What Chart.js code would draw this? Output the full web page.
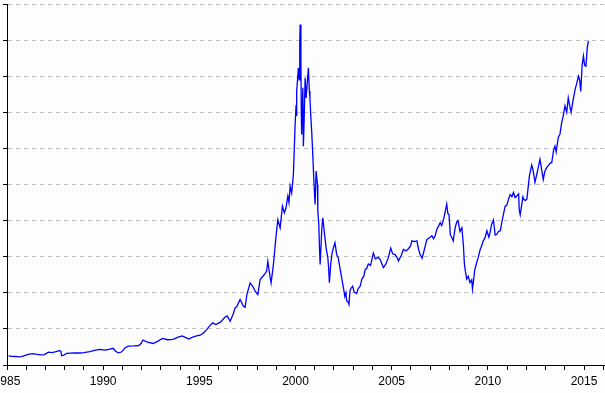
<!DOCTYPE html>
<html>
<head>
  <meta charset="utf-8">
  <title>Index 1985-2015</title>
  <script src="https://cdn.jsdelivr.net/npm/chart.js"></script>
  <style>
    html, body { margin: 0; padding: 0; background: #fdfdfd; overflow: hidden; }
    canvas { display: block; }
  </style>
</head>
<body>
  <canvas id="chart" width="605" height="393"></canvas>

  <script>
    // time as decimal years
    const years = [
      1985.08, 1985.25, 1985.45, 1985.6, 1985.75, 1985.95, 1986.15, 1986.35, 1986.55, 1986.75, 1986.95,
      1987.15, 1987.35, 1987.55, 1987.72, 1987.8, 1987.84, 1987.95, 1988.1, 1988.3, 1988.5, 1988.8,
      1989.0, 1989.3, 1989.6, 1989.84, 1990.1, 1990.35, 1990.52, 1990.65, 1990.78, 1990.95,
      1991.15, 1991.3, 1991.6, 1991.85, 1991.98, 1992.06, 1992.3, 1992.6, 1992.85,
      1993.08, 1993.35, 1993.63, 1993.9, 1994.1, 1994.3, 1994.45, 1994.65, 1994.86,
      1995.04, 1995.2, 1995.38, 1995.55, 1995.7, 1995.85, 1996.08, 1996.34, 1996.45, 1996.6, 1996.75, 1996.86,
      1996.94, 1997.12, 1997.29, 1997.38, 1997.47, 1997.64, 1997.8, 1997.9, 1998.04, 1998.16, 1998.38, 1998.5,
      1998.56, 1998.66, 1998.73, 1998.85, 1998.97, 1999.08, 1999.2, 1999.32, 1999.42, 1999.5,
      1999.6, 1999.66, 1999.72, 1999.8, 1999.89, 1999.98, 2000.03, 2000.05, 2000.07, 2000.15, 2000.19,
      2000.22, 2000.24, 2000.28, 2000.3, 2000.32, 2000.38, 2000.41, 2000.45, 2000.5, 2000.55, 2000.58,
      2000.67, 2000.72, 2000.75, 2000.79, 2000.84, 2000.89, 2000.93, 2000.97, 2001.02, 2001.07, 2001.14,
      2001.16, 2001.21, 2001.25, 2001.28, 2001.37, 2001.42, 2001.51, 2001.59, 2001.68, 2001.72, 2001.76,
      2001.83, 2001.9, 2001.97, 2002.05, 2002.14, 2002.22, 2002.31, 2002.4, 2002.52, 2002.56, 2002.62,
      2002.66, 2002.72, 2002.78, 2002.83, 2002.88, 2002.97, 2003.05, 2003.18, 2003.26, 2003.36, 2003.45,
      2003.55, 2003.62, 2003.7, 2003.79, 2003.9, 2004.05, 2004.15, 2004.31, 2004.4, 2004.57, 2004.7,
      2004.83, 2004.95, 2005.05, 2005.18, 2005.3, 2005.35, 2005.5, 2005.61, 2005.75, 2005.87, 2005.98,
      2006.05, 2006.2, 2006.31, 2006.4, 2006.48, 2006.58, 2006.7, 2006.83, 2006.95, 2007.09, 2007.17,
      2007.25, 2007.35, 2007.45, 2007.52, 2007.6, 2007.7, 2007.8, 2007.86, 2007.92, 2007.98, 2008.05,
      2008.12, 2008.2, 2008.3, 2008.38, 2008.45, 2008.55, 2008.65, 2008.73, 2008.78, 2008.83, 2008.9,
      2008.98, 2009.07, 2009.16, 2009.2, 2009.27, 2009.32, 2009.42, 2009.5, 2009.6, 2009.68, 2009.76,
      2009.85, 2009.95, 2010.05, 2010.11, 2010.2, 2010.29, 2010.38, 2010.46, 2010.55, 2010.65, 2010.72,
      2010.82, 2010.9, 2010.98, 2011.08, 2011.16, 2011.25, 2011.33, 2011.42, 2011.5, 2011.6, 2011.63,
      2011.68, 2011.75, 2011.82, 2011.88, 2011.96, 2012.03, 2012.16, 2012.28, 2012.35, 2012.45, 2012.55,
      2012.63, 2012.71, 2012.8, 2012.88, 2012.96, 2013.05, 2013.14, 2013.25, 2013.32, 2013.42, 2013.49,
      2013.55, 2013.66, 2013.75, 2013.84, 2013.92, 2014.01, 2014.1, 2014.18, 2014.25, 2014.33, 2014.42,
      2014.54, 2014.62, 2014.71, 2014.77, 2014.83, 2014.9, 2014.97, 2015.03, 2015.1, 2015.17, 2015.23
    ];
    const index = [
      125, 120, 118, 112, 115, 132, 150, 157, 148, 140, 145,
      178, 172, 185, 198, 190, 128, 135, 160, 165, 168, 166,
      172, 185, 205, 216, 205, 220, 232, 190, 168, 180,
      240, 262, 265, 270, 300, 346, 318, 298, 330,
      368, 350, 356, 385, 404, 380, 360, 385, 402,
      412, 440, 490, 545, 585, 560, 590, 665, 680, 606, 700, 790,
      805, 906, 814, 800, 975, 1137, 1080, 1022, 975, 1183, 1253, 1300,
      1437, 1250, 1137, 1391, 1737, 2014, 1899, 2199, 2107, 2170,
      2338, 2250, 2476, 2384, 2638, 3330, 3600, 3450, 3793, 4116, 3950,
      4450, 4716, 4200, 3500, 3193, 3839, 3031, 3400, 3978, 3700, 3700,
      4116, 3793, 3700, 3470, 3239, 2962, 2700, 2455, 2224, 2685, 2500,
      2131, 1947, 1600, 1393, 1900, 2039, 1809, 1623, 1485, 1350, 1139,
      1393, 1550, 1623, 1693, 1531, 1485, 1346, 1208, 1023, 950, 1000,
      885, 880, 838, 1023, 1060, 1092, 1010, 990, 1060, 1090, 1190,
      1230, 1320, 1340, 1400, 1380, 1550, 1470, 1490, 1460, 1350, 1400,
      1490, 1620, 1540, 1530, 1480, 1440, 1520, 1600, 1580, 1610, 1650,
      1720, 1710, 1720, 1600, 1530, 1480, 1600, 1740, 1760, 1790, 1750,
      1780, 1880, 1930, 1970, 1930, 2020, 2150, 2230, 2100, 2080, 1800,
      1770, 1720, 1900, 1980, 2000, 1850, 1900, 1650, 1400, 1300, 1190,
      1230, 1140, 1180, 1050, 1200, 1320, 1420, 1490, 1600, 1650, 1720,
      1760, 1860, 1770, 1830, 1950, 2010, 1800, 1810, 1850, 1860, 1970,
      2100, 2200, 2210, 2300, 2360, 2330, 2390, 2320, 2340, 2370, 2150,
      2080, 2200, 2330, 2290, 2280, 2300, 2620, 2770, 2700, 2530, 2650,
      2750, 2850, 2700, 2570, 2680, 2730, 2760, 2800, 2800, 2980, 3030,
      2950, 3150, 3200, 3360, 3450, 3590, 3500, 3700, 3600, 3500, 3650,
      3820, 3900, 4000, 3950, 3790, 4150, 4280, 4150, 4140, 4400, 4490
    ];
    const yearLabels = [1985, 1990, 1995, 2000, 2005, 2010, 2015];

    const points = years.map((t, i) => ({ x: t, y: index[i] }));

    new Chart(document.getElementById('chart'), {
      type: 'line',
      data: {
        datasets: [{
          data: points,
          borderColor: '#0000ff',
          borderWidth: 1.3,
          pointRadius: 0,
          tension: 0,
          fill: false
        }]
      },
      options: {
        responsive: false,
        animation: false,
        layout: { padding: { left: 3, top: 4, right: 0, bottom: 0.6 } },
        plugins: { legend: { display: false }, tooltip: { enabled: false } },
        scales: {
          x: {
            type: 'linear',
            min: 1985,
            max: 2016.09,
            grid: { drawOnChartArea: false, tickLength: 5, tickColor: '#000', tickWidth: 1 },
            border: { color: '#000', width: 1, z: 1 },
            ticks: {
              stepSize: 1,
              autoSkip: false,
              maxRotation: 0,
              includeBounds: false,
              padding: 4,
              color: '#000',
              font: { family: '"Liberation Sans", Arial, sans-serif', size: 12 },
              callback: v => yearLabels.includes(Math.round(v)) ? String(Math.round(v)) : ''
            },
            afterFit: s => { s.paddingLeft = 0; s.paddingRight = 0; }
          },
          y: {
            min: 0,
            max: 5000,
            ticks: { display: false, stepSize: 500 },
            grid: { color: '#c0c0c0', tickColor: '#000', tickLength: 4, lineWidth: 1 },
            border: { color: '#000', width: 1, dash: [4, 4], z: 1 }
          }
        }
      }
    });
  </script>
</body>
</html>
